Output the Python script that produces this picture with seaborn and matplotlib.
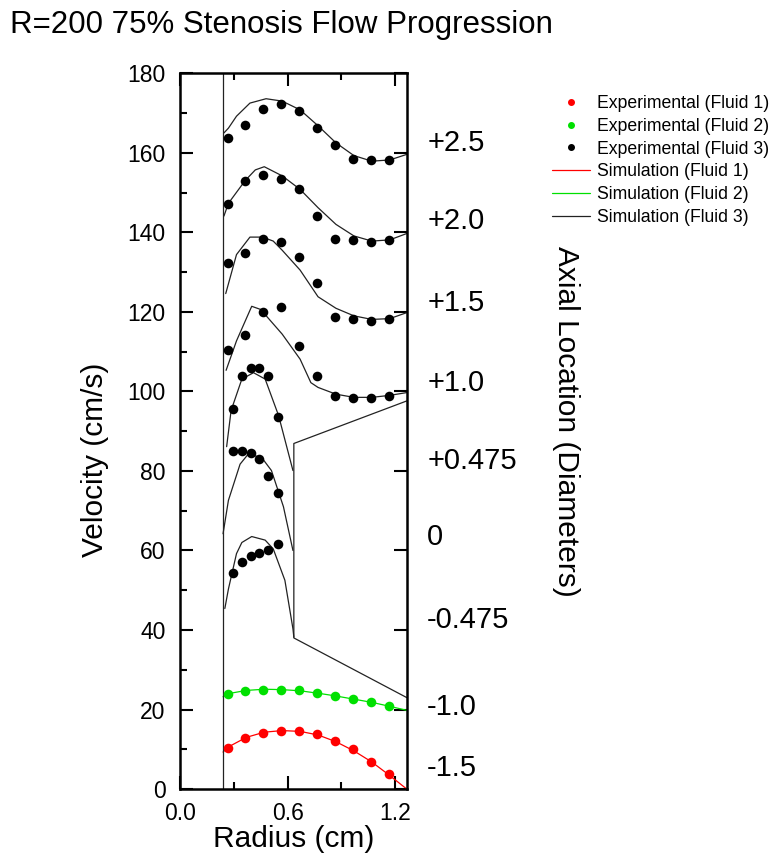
import matplotlib
matplotlib.use("Agg")
import matplotlib.pyplot as plt
from matplotlib.lines import Line2D
from matplotlib.ticker import MultipleLocator, FormatStrFormatter
import pandas as pd
import seaborn as sns

sns.set_style("ticks")
plt.rcParams['font.family'] = ['Liberation Sans', 'DejaVu Sans']
plt.rcParams['text.color'] = 'black'
plt.rcParams['axes.labelcolor'] = 'black'
plt.rcParams['xtick.color'] = 'black'
plt.rcParams['ytick.color'] = 'black'

# radii (cm) of the measurement points
r_coarse = [0.265, 0.365, 0.465, 0.565, 0.665, 0.765, 0.865, 0.965, 1.065, 1.165]
r_fine = [0.298, 0.345, 0.397, 0.443, 0.493, 0.545]

# experimental velocities (cm/s)
exp_p25 = [163.7, 166.9, 171.0, 172.3, 170.5, 166.3, 161.9, 158.5, 158.1, 158.1]
exp_p20 = [147.2, 152.8, 154.5, 153.3, 150.8, 144.2, 138.4, 138.0, 137.5, 138.0]
exp_p15 = [132.4, 134.8, 138.2, 137.6, 133.7, 127.3, 118.6, 118.1, 117.6, 118.1]
exp_p10 = [110.4, 114.1, 119.9, 121.3, 111.5, 103.9, 98.8, 98.3, 98.3, 98.8]
exp_p0475 = [95.5, 103.9, 106.0, 105.8, 103.9, 93.6]
exp_0 = [85.1, 85.1, 84.6, 83.0, 78.8, 74.4]
exp_m0475 = [54.3, 57.1, 58.5, 59.3, 60.0, 61.5]
exp_m10 = [23.9, 24.6, 25.0, 24.8, 24.8, 24.1, 23.4, 22.7, 21.8, 20.8]
exp_m15 = [10.3, 12.9, 14.1, 14.6, 14.6, 13.9, 12.0, 10.0, 6.9, 3.7]

# simulation profiles (radius, velocity)
sim_p25_r = [0.245, 0.27, 0.315, 0.39, 0.48, 0.57, 0.67, 0.77, 0.87, 0.97, 1.07, 1.17, 1.265]
sim_p25_v = [165.0, 166.2, 169.2, 172.5, 173.6, 173.0, 170.8, 166.8, 162.5, 159.3, 157.9, 158.2, 159.6]
sim_p20_r = [0.245, 0.27, 0.363, 0.42, 0.47, 0.57, 0.67, 0.77, 0.87, 0.97, 1.07, 1.17, 1.265]
sim_p20_v = [144.1, 147.3, 153.0, 155.7, 156.5, 154.2, 150.8, 146.2, 142.0, 139.1, 137.8, 138.1, 139.7]
sim_p15_r = [0.255, 0.315, 0.39, 0.46, 0.52, 0.57, 0.67, 0.77, 0.87, 0.97, 1.07, 1.17, 1.265]
sim_p15_v = [124.6, 134.4, 138.8, 138.8, 137.8, 135.5, 130.5, 123.8, 120.9, 119.0, 118.1, 118.3, 119.8]
sim_p10_r = [0.257, 0.315, 0.40, 0.45, 0.57, 0.67, 0.73, 0.77, 0.87, 0.97, 1.07, 1.17, 1.265]
sim_p10_v = [105.3, 112.7, 121.4, 120.6, 114.4, 108.1, 102.2, 101.0, 99.3, 98.5, 98.5, 99.0, 99.7]
sim_p0475_r = [0.26, 0.285, 0.345, 0.41, 0.475, 0.55, 0.63]
sim_p0475_v = [86.1, 95.2, 103.1, 104.7, 103.1, 93.9, 80.1]
sim_0_r = [0.24, 0.27, 0.335, 0.38, 0.455, 0.51, 0.577, 0.63]
sim_0_v = [64.2, 72.6, 81.7, 84.2, 83.4, 80.1, 71.0, 60.0]
sim_m0475_r = [0.25, 0.27, 0.315, 0.345, 0.40, 0.475, 0.52, 0.585, 0.63, 0.635]
sim_m0475_v = [45.4, 50.3, 59.2, 62.0, 63.5, 62.6, 60.4, 52.5, 40.3, 38.2]
sim_m10_r = [0.24, 0.27, 0.37, 0.47, 0.57, 0.67, 0.77, 0.87, 0.97, 1.07, 1.17, 1.265]
sim_m10_v = [23.2, 24.0, 24.8, 25.1, 25.0, 24.7, 24.1, 23.4, 22.6, 21.8, 20.8, 19.8]
sim_m15_r = [0.24, 0.27, 0.37, 0.47, 0.57, 0.67, 0.77, 0.87, 0.97, 1.07, 1.17, 1.265]
sim_m15_v = [9.3, 10.6, 13.0, 14.3, 14.7, 14.5, 13.6, 11.9, 9.6, 6.8, 3.4, 0.0]

# stenosis outline
wall_r = [1.265, 0.635, 0.635, 1.265]
wall_v = [97.6, 86.9, 38.0, 23.0]
inlet_r = 0.24

loc_labels = ['+2.5', '+2.0', '+1.5', '+1.0', '+0.475', '0', '-0.475', '-1.0', '-1.5']
loc_heights = [162.5, 142.9, 122.2, 102.1, 82.5, 63.4, 42.5, 20.6, 5.3]

RED = '#ff0000'
GREEN = '#00e000'
BLACK = '#000000'
SIM_BLACK = '#222222'

fig = plt.figure(figsize=(7.73, 8.57), dpi=100)
ax = fig.add_axes([0.2329, 0.0793, 0.2933, 0.8352])

sims = [
    (sim_p25_r, sim_p25_v, SIM_BLACK), (sim_p20_r, sim_p20_v, SIM_BLACK),
    (sim_p15_r, sim_p15_v, SIM_BLACK), (sim_p10_r, sim_p10_v, SIM_BLACK),
    (sim_p0475_r, sim_p0475_v, SIM_BLACK), (sim_0_r, sim_0_v, SIM_BLACK),
    (sim_m0475_r, sim_m0475_v, SIM_BLACK), (sim_m10_r, sim_m10_v, GREEN),
    (sim_m15_r, sim_m15_v, RED),
]
for r, v, c in sims:
    sns.lineplot(data=pd.DataFrame({'r': r, 'v': v}), x='r', y='v', sort=False,
                 estimator=None, color=c, linewidth=0.9, ax=ax)

# geometry lines
ax.axvline(inlet_r, color=SIM_BLACK, linewidth=0.9)
sns.lineplot(data=pd.DataFrame({'r': wall_r, 'v': wall_v}), x='r', y='v', sort=False,
             estimator=None, color=SIM_BLACK, linewidth=0.9, ax=ax)

exps = [
    (r_coarse, exp_p25, BLACK), (r_coarse, exp_p20, BLACK), (r_coarse, exp_p15, BLACK),
    (r_coarse, exp_p10, BLACK), (r_fine, exp_p0475, BLACK), (r_fine, exp_0, BLACK),
    (r_fine, exp_m0475, BLACK), (r_coarse, exp_m10, GREEN), (r_coarse, exp_m15, RED),
]
for r, v, c in exps:
    sns.scatterplot(x=r, y=v, color=c, s=48, linewidth=0, ax=ax, zorder=3)

ax.set_xlim(0, 1.265)
ax.set_ylim(0, 180)
ax.xaxis.set_major_locator(MultipleLocator(0.6))
ax.xaxis.set_minor_locator(MultipleLocator(0.3))
ax.yaxis.set_major_locator(MultipleLocator(20))
ax.yaxis.set_minor_locator(MultipleLocator(10))
ax.tick_params(which='both', direction='in', top=True, right=True, width=1.5,
               labelsize=16.5, pad=10.5)
ax.tick_params(axis='x', pad=9)
ax.tick_params(which='major', length=9.5)
ax.tick_params(which='minor', length=5, right=False)
ax.xaxis.set_major_formatter(FormatStrFormatter('%.1f'))
for s in ax.spines.values():
    s.set_linewidth(1.8)
    s.set_color('black')

ax.set_xlabel('Radius (cm)', fontsize=21.5, labelpad=0)
ax.set_ylabel('Velocity (cm/s)', fontsize=21.5)
ax.yaxis.set_label_coords(-0.315, 0.46)

for lab, h in zip(loc_labels, loc_heights):
    ax.text(1.09, h, lab, transform=ax.get_yaxis_transform(), fontsize=21,
            ha='left', va='center', clip_on=False)

ax.text(1.703, 0.513, 'Axial Location (Diameters)', transform=ax.transAxes,
        rotation=270, fontsize=21.5, ha='center', va='center')

fig.text(10 / 773, 1 - 33 / 857, 'R=200 75% Stenosis Flow Progression',
         fontsize=22.5, ha='left', va='baseline')

handles = [
    Line2D([], [], marker='o', linestyle='none', color=RED, markersize=4),
    Line2D([], [], marker='o', linestyle='none', color=GREEN, markersize=4),
    Line2D([], [], marker='o', linestyle='none', color=BLACK, markersize=4),
    Line2D([], [], color=RED, linewidth=0.9),
    Line2D([], [], color=GREEN, linewidth=0.9),
    Line2D([], [], color=SIM_BLACK, linewidth=0.9),
]
labels = ['Experimental (Fluid 1)', 'Experimental (Fluid 2)', 'Experimental (Fluid 3)',
          'Simulation (Fluid 1)', 'Simulation (Fluid 2)', 'Simulation (Fluid 3)']
fig.legend(handles, labels, loc='upper left', bbox_to_anchor=(552 / 773, 1 - 95 / 857),
           frameon=False, fontsize=12.7, handlelength=2.15, handletextpad=0.4,
           labelspacing=0.33, borderpad=0, borderaxespad=0)

fig.savefig('out.png', dpi=100)
